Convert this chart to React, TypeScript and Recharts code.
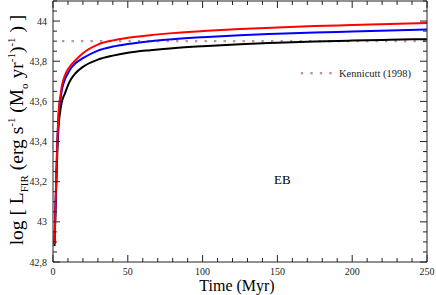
import { LineChart, Line, XAxis, YAxis, Legend } from 'recharts';

const times = [1, 1.5, 2, 2.5, 3, 3.5, 4, 5, 6, 8, 10, 12, 15, 20, 30, 40, 50, 65, 80, 100, 125, 150, 175, 200, 225, 250];
const redSeries = [42.89, 43.03, 43.17, 43.3, 43.42, 43.51, 43.57, 43.63, 43.68, 43.73, 43.76, 43.78, 43.805, 43.84, 43.883, 43.904, 43.917, 43.93, 43.94, 43.95, 43.96, 43.968, 43.975, 43.98, 43.985, 43.99];
const blueSeries = [42.89, 43.03, 43.17, 43.3, 43.42, 43.5, 43.56, 43.61, 43.66, 43.71, 43.74, 43.765, 43.79, 43.815, 43.853, 43.873, 43.886, 43.9, 43.91, 43.92, 43.93, 43.937, 43.943, 43.948, 43.953, 43.958];
const blackSeries = [42.88, 43.01, 43.14, 43.26, 43.37, 43.45, 43.5, 43.56, 43.6, 43.64, 43.68, 43.71, 43.74, 43.772, 43.808, 43.828, 43.842, 43.855, 43.865, 43.875, 43.885, 43.892, 43.898, 43.903, 43.907, 43.91];

const kennicuttTimes = [6, 250];
const kennicuttValues = [43.9, 43.9];

const xTicks = [0, 10, 20, 30, 40, 50, 60, 70, 80, 90, 100, 110, 120, 130, 140, 150, 160, 170, 180, 190, 200, 210, 220, 230, 240, 250];
const yTicks = [42.8, 42.85, 42.9, 42.95, 43, 43.05, 43.1, 43.15, 43.2, 43.25, 43.3, 43.35, 43.4, 43.45, 43.5, 43.55, 43.6, 43.65, 43.7, 43.75, 43.8, 43.85, 43.9, 43.95, 44, 44.05, 44.1];

const data = times.map((t, i) => ({ t, red: redSeries[i], blue: blueSeries[i], black: blackSeries[i] }));
const kennicuttData = kennicuttTimes.map((t, i) => ({ t, k: kennicuttValues[i] }));

const FONT = '"Liberation Serif", "DejaVu Serif", serif';

const isMajorX = (v: number) => v % 50 === 0;
const isMajorY = (v: number) => Math.abs(v * 5 - Math.round(v * 5)) < 1e-6;
const fmtY = (v: number) => String(Math.round(v * 10) / 10).replace('.', ',');

const makeTick = (side: 'bottom' | 'top' | 'left' | 'right', labels: boolean) => (props: any) => {
  const { x, y, payload } = props;
  const v = payload.value;
  const major = side === 'bottom' || side === 'top' ? isMajorX(v) : isMajorY(v);
  const len = major ? 7 : 4;
  let line;
  if (side === 'bottom') line = <line x1={x} x2={x} y1={y} y2={y - len} stroke="#222" />;
  else if (side === 'top') line = <line x1={x} x2={x} y1={y} y2={y + len} stroke="#222" />;
  else if (side === 'left') line = <line x1={x} x2={x + len} y1={y} y2={y} stroke="#222" />;
  else line = <line x1={x} x2={x - len} y1={y} y2={y} stroke="#222" />;
  let label = null;
  if (labels && major) {
    if (side === 'bottom')
      label = <text x={x} y={y + 13} textAnchor="middle" fontSize={10} fontFamily={FONT} fill="#222">{v}</text>;
    if (side === 'left' && v <= 44.01)
      label = <text x={x - 6} y={y + 3.5} textAnchor="end" fontSize={10} fontFamily={FONT} fill="#222">{fmtY(v)}</text>;
  }
  return (
    <g>
      {line}
      {label}
    </g>
  );
};

const XTitle = () => (
  <text x={237} y={291} textAnchor="middle" fontSize={16} fontFamily={FONT} fill="#000">
    Time (Myr)
  </text>
);

// rotated title with sub/superscripts
const YTitle = () => (
  <text transform="rotate(-90, 23, 130)" x={23} y={130} textAnchor="middle" fontSize={19.5} fontFamily={FONT} fill="#000">
    log [ L<tspan fontSize={11} dy={5}>FIR</tspan>
    <tspan dy={-5}> (erg s</tspan>
    <tspan fontSize={11} dy={-8}>-1</tspan>
    <tspan dy={8}> (M</tspan>
    <tspan fontSize={11} dy={5}>o</tspan>
    <tspan dy={-5}> yr</tspan>
    <tspan fontSize={11} dy={-8}>-1</tspan>
    <tspan dy={8}>)</tspan>
    <tspan fontSize={11} dy={-8}>-1</tspan>
    <tspan dy={8}> ) ]</tspan>
  </text>
);

const Overlay = () => (
  <svg width={436} height={295} style={{ display: 'block' }}>
    {[302, 311.5, 321, 330.5].map((cx) => (
      <rect key={cx} x={cx - 1.2} y={72} width={2.4} height={2.4} fill="#c09494" />
    ))}
    <text x={339} y={77} fontSize={10.5} fontFamily={FONT} fill="#222">Kennicutt (1998)</text>
    <text x={274} y={183.5} fontSize={13} fontFamily={FONT} fill="#000">EB</text>
  </svg>
);

export default function App() {
  return (
    <div style={{ position: 'absolute', left: 0, top: 0 }}>
      <LineChart width={436} height={295} data={data} margin={{ top: 0, right: 8, bottom: 32, left: 52 }}>
        <XAxis
          xAxisId="b"
          dataKey="t"
          type="number"
          domain={[0, 250]}
          ticks={xTicks}
          interval={0}
          height={1}
          tickSize={0}
          tickMargin={0}
          tickLine={false}
          axisLine={{ stroke: '#222' }}
          tick={makeTick('bottom', true)}
          label={<XTitle />}
        />
        <XAxis
          xAxisId="t"
          orientation="top"
          dataKey="t"
          type="number"
          domain={[0, 250]}
          ticks={xTicks}
          interval={0}
          height={1}
          tickSize={0}
          tickMargin={0}
          tickLine={false}
          axisLine={{ stroke: '#222' }}
          tick={makeTick('top', false)}
        />
        <YAxis
          yAxisId="l"
          type="number"
          domain={[42.8, 44.1]}
          allowDataOverflow
          ticks={yTicks}
          interval={0}
          width={1}
          tickSize={0}
          tickMargin={0}
          tickLine={false}
          axisLine={{ stroke: '#222' }}
          tick={makeTick('left', true)}
          label={<YTitle />}
        />
        <YAxis
          yAxisId="r"
          orientation="right"
          type="number"
          domain={[42.8, 44.1]}
          allowDataOverflow
          ticks={yTicks}
          interval={0}
          width={1}
          tickSize={0}
          tickMargin={0}
          tickLine={false}
          axisLine={{ stroke: '#222' }}
          tick={makeTick('right', false)}
        />
        <Legend
          layout="vertical"
          align="center"
          verticalAlign="middle"
          wrapperStyle={{ position: 'absolute', left: 0, top: 0, width: 436, height: 295, pointerEvents: 'none' }}
          content={() => <Overlay />}
        />
        <Line
          xAxisId="b"
          yAxisId="l"
          data={kennicuttData}
          dataKey="k"
          type="linear"
          stroke="#c09494"
          strokeWidth={2.4}
          strokeDasharray="2.4 7.1"
          dot={false}
          isAnimationActive={false}
        />
        <Line xAxisId="b" yAxisId="l" dataKey="black" type="monotone" stroke="#000" strokeWidth={2} dot={false} isAnimationActive={false} />
        <Line xAxisId="b" yAxisId="l" dataKey="blue" type="monotone" stroke="#0000ff" strokeWidth={2} dot={false} isAnimationActive={false} />
        <Line xAxisId="b" yAxisId="l" dataKey="red" type="monotone" stroke="#ff0000" strokeWidth={2} dot={false} isAnimationActive={false} />
      </LineChart>
    </div>
  );
}
